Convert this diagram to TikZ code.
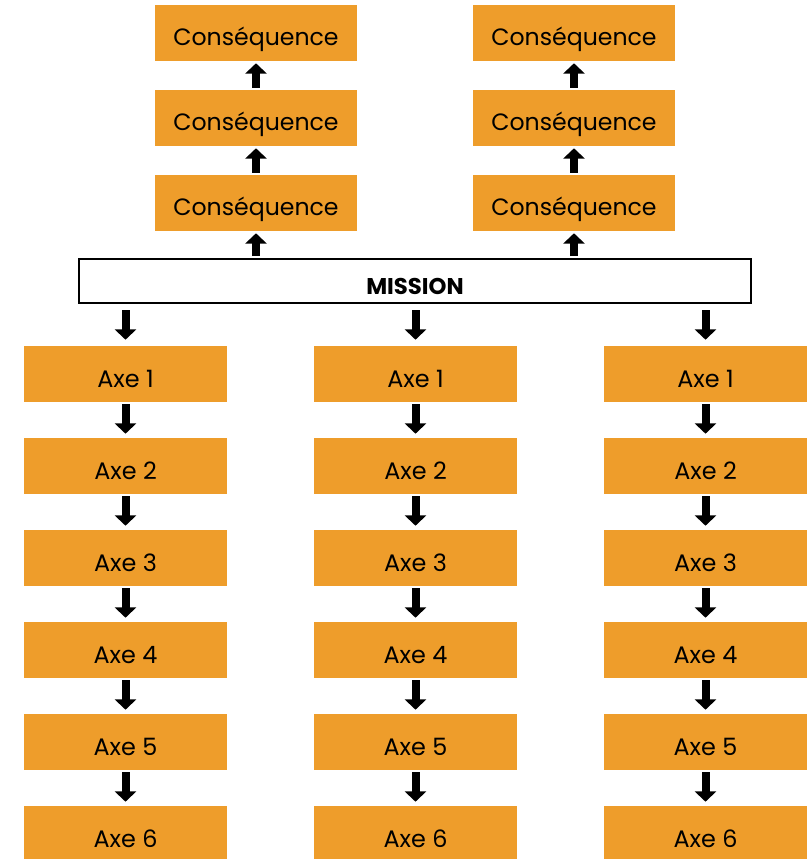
\documentclass[tikz,border=0pt]{standalone}
\usepackage{fontspec}
\setmainfont{Poppins}
\usepackage{tikz}
\usepackage{color}
\usetikzlibrary{arrows.meta}

\begin{document}
\begin{tikzpicture}
\definecolor{cfc}{rgb}{0.933,0.616,0.169}
\definecolor{clc}{rgb}{0.0,0.0,0.0}
\definecolor{cm}{rgb}{0.0,0.0,0.0}
\definecolor{cfm}{rgb}{1.0,1.0,1.0}
\definecolor{clm}{rgb}{0.0,0.0,0.0}
\definecolor{cfa}{rgb}{0.933,0.616,0.169}
\definecolor{cla}{rgb}{0.0,0.0,0.0}
\definecolor{ce}{rgb}{0.0,0.0,0.0}
\tikzset{
  conseq/.style={minimum width=5.05cm,minimum height=1.4cm,inner sep=0pt,text height=0.6cm,text depth=0cm,draw=none,fill=cfc,text=clc,shape=rectangle,font=\fontsize{16.8}{20}\selectfont},
  axebox/.style={minimum width=5.075cm,minimum height=1.4cm,inner sep=0pt,text height=0.65cm,text depth=0cm,draw=none,fill=cfa,text=cla,shape=rectangle,font=\fontsize{17}{20}\selectfont},
  missionbox/.style={minimum width=16.8cm,minimum height=1.1cm,inner sep=0pt,text height=0.68cm,text depth=0cm,line width=0.05cm,draw=cm,fill=cfm,text=clm,shape=rectangle,font=\fontsize{16.2}{20}\selectfont\bfseries},
  upto/.style={color=ce,line width=0.2cm,-{Triangle[width=0.53cm,length=0.26cm]},shorten <=0.05cm,shorten >=0.05cm},
  downto/.style={color=ce,line width=0.2cm,-{Triangle[width=0.53cm,length=0.26cm]},shorten <=0.05cm,shorten >=0.1cm},
}
\useasboundingbox (0,0) rectangle (20.3,-21.475);
%
\node[conseq] (c0) at (6.4cm,-5.075cm) {Conséquence};
\node[conseq] (c1) at (6.4cm,-2.95cm) {Conséquence};
\node[conseq] (c2) at (6.4cm,-0.825cm) {Conséquence};
\node[conseq] (c3) at (14.35cm,-5.075cm) {Conséquence};
\node[conseq] (c4) at (14.35cm,-2.95cm) {Conséquence};
\node[conseq] (c5) at (14.35cm,-0.825cm) {Conséquence};
%
\node[missionbox] (m0) at (10.375cm,-7.025cm) {MISSION};
%
\node[axebox] (a0) at (3.1375cm,-9.35cm) {Axe 1};
\node[axebox] (a1) at (3.1375cm,-11.65cm) {Axe 2};
\node[axebox] (a2) at (3.1375cm,-13.95cm) {Axe 3};
\node[axebox] (a3) at (3.1375cm,-16.25cm) {Axe 4};
\node[axebox] (a4) at (3.1375cm,-18.55cm) {Axe 5};
\node[axebox] (a5) at (3.1375cm,-20.85cm) {Axe 6};
\node[axebox] (a6) at (10.3875cm,-9.35cm) {Axe 1};
\node[axebox] (a7) at (10.3875cm,-11.65cm) {Axe 2};
\node[axebox] (a8) at (10.3875cm,-13.95cm) {Axe 3};
\node[axebox] (a9) at (10.3875cm,-16.25cm) {Axe 4};
\node[axebox] (a10) at (10.3875cm,-18.55cm) {Axe 5};
\node[axebox] (a11) at (10.3875cm,-20.85cm) {Axe 6};
\node[axebox] (a12) at (17.6375cm,-9.35cm) {Axe 1};
\node[axebox] (a13) at (17.6375cm,-11.65cm) {Axe 2};
\node[axebox] (a14) at (17.6375cm,-13.95cm) {Axe 3};
\node[axebox] (a15) at (17.6375cm,-16.25cm) {Axe 4};
\node[axebox] (a16) at (17.6375cm,-18.55cm) {Axe 5};
\node[axebox] (a17) at (17.6375cm,-20.85cm) {Axe 6};
%
\draw[upto] (m0.north -| c0) -- (c0);
\draw[upto] (m0.north -| c3) -- (c3);
\draw[upto] (c0) -- (c1);
\draw[upto] (c1) -- (c2);
\draw[upto] (c3) -- (c4);
\draw[upto] (c4) -- (c5);
%
\draw[downto,shorten <=0.15cm,shorten >=0.15cm] (m0.south -| a0) -- (a0);
\draw[downto,shorten <=0.15cm,shorten >=0.15cm] (m0.south -| a6) -- (a6);
\draw[downto,shorten <=0.15cm,shorten >=0.15cm] (m0.south -| a12) -- (a12);
\draw[downto] (a0) -- (a1);
\draw[downto] (a1) -- (a2);
\draw[downto] (a2) -- (a3);
\draw[downto] (a3) -- (a4);
\draw[downto] (a4) -- (a5);
\draw[downto] (a6) -- (a7);
\draw[downto] (a7) -- (a8);
\draw[downto] (a8) -- (a9);
\draw[downto] (a9) -- (a10);
\draw[downto] (a10) -- (a11);
\draw[downto] (a12) -- (a13);
\draw[downto] (a13) -- (a14);
\draw[downto] (a14) -- (a15);
\draw[downto] (a15) -- (a16);
\draw[downto] (a16) -- (a17);
%
\end{tikzpicture}
\end{document}
